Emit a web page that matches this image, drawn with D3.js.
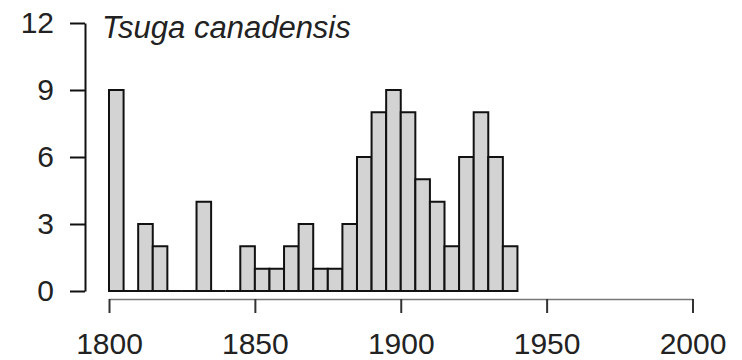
<!DOCTYPE html>
<html>
<head>
<meta charset="utf-8">
<script src="https://cdn.jsdelivr.net/npm/d3@7"></script>
<style>
  body { margin: 0; background: #fff; }
  svg { display: block; font-family: Arial, "Liberation Sans", sans-serif; }
</style>
</head>
<body>
<svg id="hist"></svg>
<script>
// 5-year bins, start year of each bin
const binStarts = [1800, 1805, 1810, 1815, 1820, 1825, 1830, 1835, 1840, 1845,
  1850, 1855, 1860, 1865, 1870, 1875, 1880, 1885, 1890, 1895,
  1900, 1905, 1910, 1915, 1920, 1925, 1930, 1935];
const counts = [9, 0, 3, 2, 0, 0, 4, 0, 0, 2,
  1, 1, 2, 3, 1, 1, 3, 6, 8, 9,
  8, 5, 4, 2, 6, 8, 6, 2];
const binWidth = 5;
const xTicks = [1800, 1850, 1900, 1950, 2000];
const yTicks = [0, 3, 6, 9, 12];
const speciesName = "Tsuga canadensis";

const W = 742, H = 360;
const svg = d3.select("#hist").attr("width", W).attr("height", H);

const x = d3.scaleLinear().domain([1800, 2000]).range([109, 692.5]);
const y = d3.scaleLinear().domain([0, 12]).range([291, 23]);

const data = binStarts.map((s, i) => ({ start: s, count: counts[i] }));

// bars drawn as closed paths so empty bins still leave a line on the baseline
function barPath(d) {
  const p = d3.path();
  p.rect(x(d.start), y(d.count), x(d.start + binWidth) - x(d.start), y(0) - y(d.count));
  return p.toString();
}

svg.append("g")
  .selectAll("path")
  .data(data)
  .join("path")
  .attr("d", barPath)
  .attr("fill", "#d3d3d3")
  .attr("stroke", "#111")
  .attr("stroke-width", 2);

// y axis
const yAxis = svg.append("g")
  .attr("transform", "translate(85,0)")
  .call(d3.axisLeft(y).tickValues(yTicks).tickSize(15).tickSizeOuter(0).tickPadding(16));
yAxis.select(".domain").attr("stroke", "#111").attr("stroke-width", 2);
yAxis.selectAll(".tick line").attr("stroke", "#111").attr("stroke-width", 2);
yAxis.selectAll("text").attr("font-size", 30).attr("fill", "#222")
  .attr("font-family", "Arial, 'Liberation Sans', sans-serif");

// x axis
const xAxis = svg.append("g")
  .attr("transform", "translate(0,299)")
  .call(d3.axisBottom(x).tickValues(xTicks).tickSize(14).tickSizeOuter(0).tickPadding(20)
    .tickFormat(d3.format("d")));
xAxis.select(".domain").attr("stroke", "#777").attr("stroke-width", 1.5);
xAxis.selectAll(".tick line").attr("stroke", "#333").attr("stroke-width", 2);
xAxis.selectAll("text").attr("font-size", 30).attr("fill", "#222")
  .attr("font-family", "Arial, 'Liberation Sans', sans-serif");

// species label
svg.append("text")
  .attr("x", 102)
  .attr("y", 38)
  .attr("font-size", 31)
  .attr("font-style", "italic")
  .attr("fill", "#222")
  .text(speciesName);
</script>
</body>
</html>
